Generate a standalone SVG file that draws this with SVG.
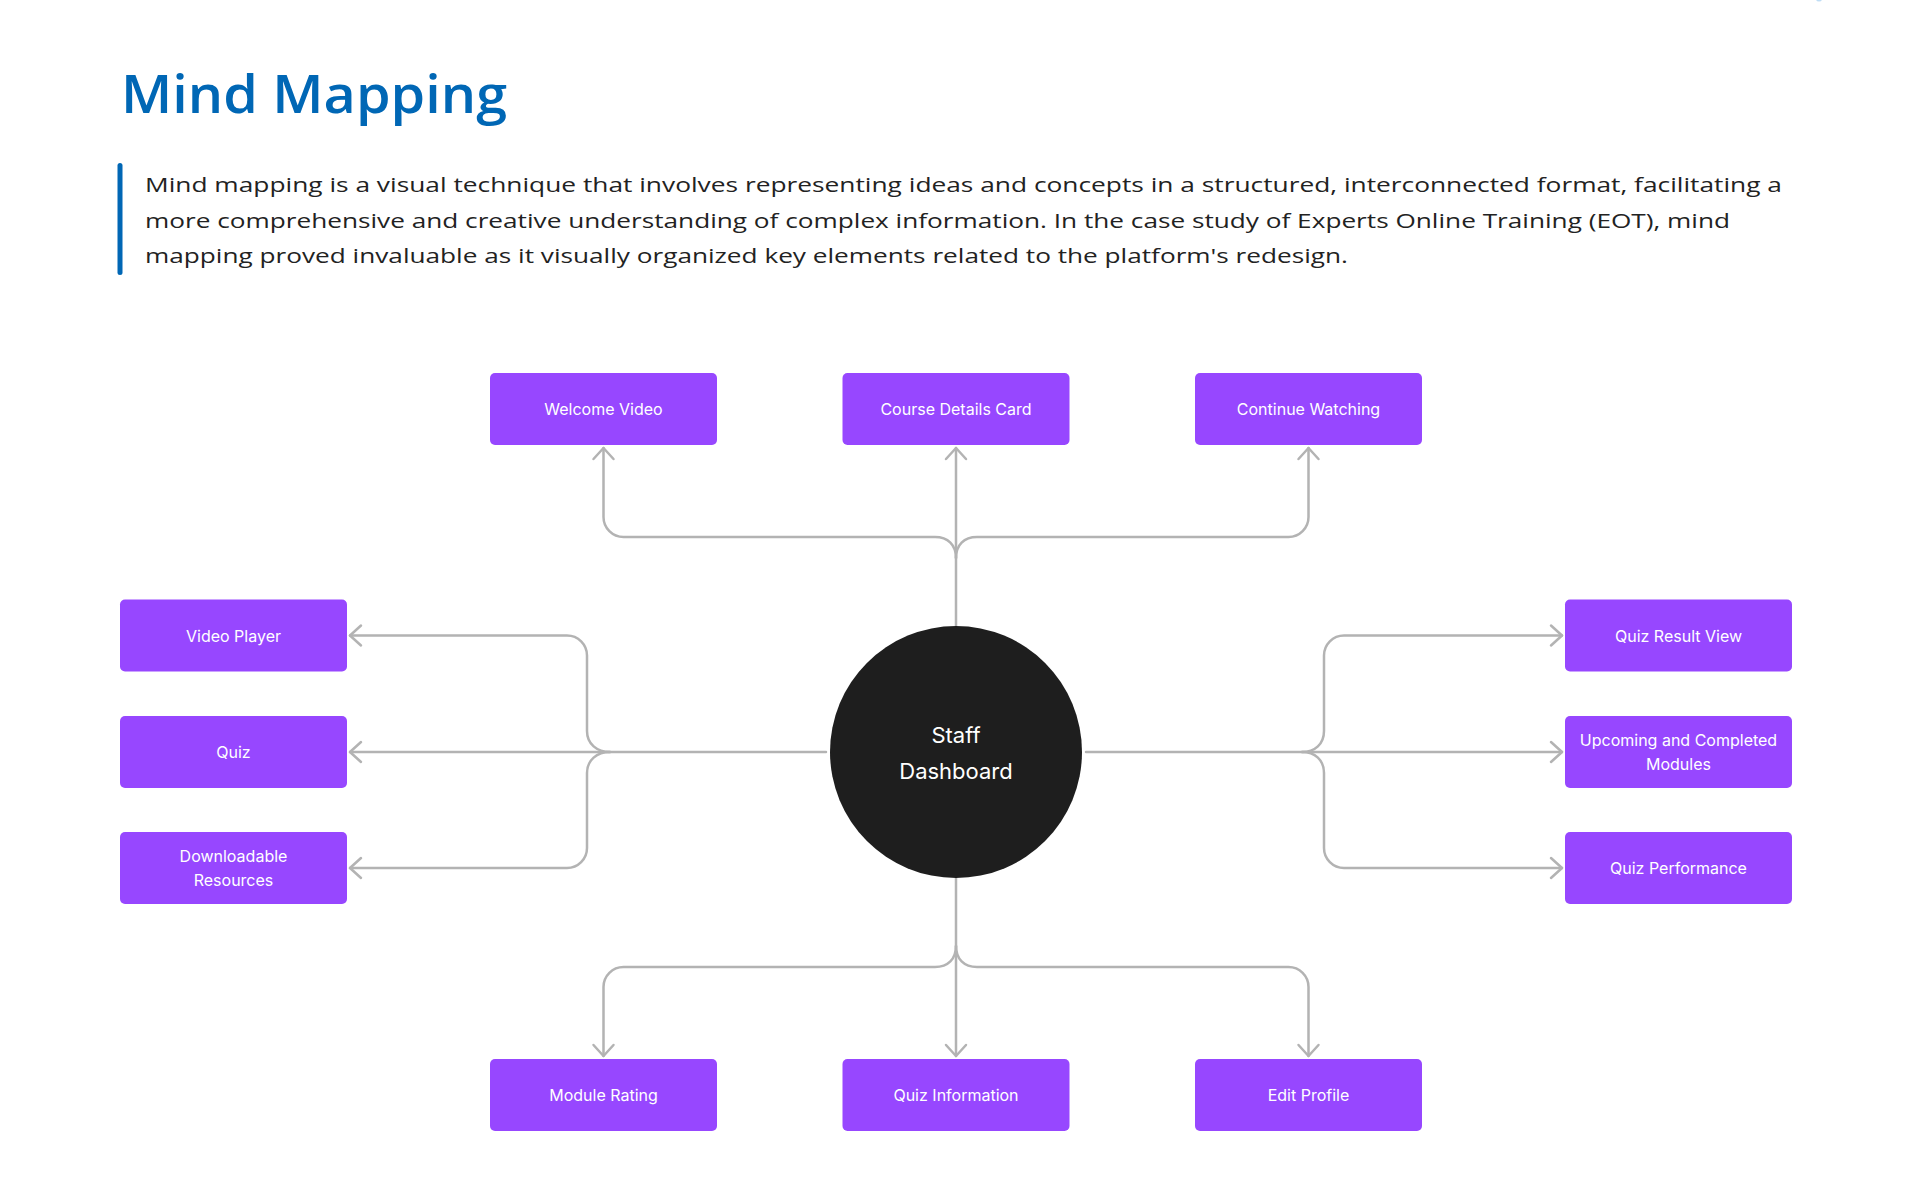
<svg xmlns="http://www.w3.org/2000/svg" width="1920" height="1185" viewBox="0 0 1920 1185">
  <style>
    .box { fill: #9747FF; }
    .lbl { font-family: Inter, "Liberation Sans", sans-serif; font-size: 16px; font-weight: 400; fill: #FFFFFF; text-anchor: middle; }
    .hub { font-family: Inter, "Liberation Sans", sans-serif; font-size: 22px; font-weight: 400; fill: #FFFFFF; text-anchor: middle; }
    .con { fill: none; stroke: #B3B3B3; stroke-width: 2.5; stroke-linecap: round; stroke-linejoin: round; }
    .title { font-family: "Open Sans", "Liberation Sans", sans-serif; font-size: 52px; font-weight: 600; fill: #0067B5; }
    .para { font-family: "Open Sans", "Liberation Sans", sans-serif; font-size: 20.5px; font-weight: 400; fill: #222222; }
  </style>
  <defs>
    <marker id="arr" markerUnits="userSpaceOnUse" markerWidth="30" markerHeight="30" viewBox="-15 -15 30 30" refX="0" refY="0" orient="auto">
      <path d="M -11 -10 L 0 0 L -11 10" fill="none" stroke="#B3B3B3" stroke-width="2.5" stroke-linecap="round" stroke-linejoin="round"/>
    </marker>
  </defs>
  <rect width="1920" height="1185" fill="#FFFFFF"/>
  <ellipse cx="1819" cy="-1" rx="3" ry="2.5" fill="#BFDDF5"/>

  <g id="header">
    <text class="title" x="121" y="113" textLength="386" lengthAdjust="spacingAndGlyphs">Mind Mapping</text>
    <rect x="117.5" y="163" width="5" height="112" rx="2.5" fill="#0067B5"/>
    <text class="para" x="145" y="192" textLength="1637" lengthAdjust="spacingAndGlyphs">Mind mapping is a visual technique that involves representing ideas and concepts in a structured, interconnected format, facilitating a</text>
    <text class="para" x="145" y="227.5" textLength="1585" lengthAdjust="spacingAndGlyphs">more comprehensive and creative understanding of complex information. In the case study of Experts Online Training (EOT), mind</text>
    <text class="para" x="145" y="263" textLength="1203" lengthAdjust="spacingAndGlyphs">mapping proved invaluable as it visually organized key elements related to the platform's redesign.</text>
  </g>

  <g id="connectors">
    <path class="con" d="M956 626 V448" marker-end="url(#arr)"/>
    <path class="con" d="M956 558 C956 545 948 537 935 537 H623.5 A20 20 0 0 1 603.5 517 V448" marker-end="url(#arr)"/>
    <path class="con" d="M956 558 C956 545 964 537 977 537 H1288.5 A20 20 0 0 0 1308.5 517 V448" marker-end="url(#arr)"/>
    <path class="con" d="M956 878 V1056" marker-end="url(#arr)"/>
    <path class="con" d="M956 946 C956 959 948 967 935 967 H623.5 A20 20 0 0 0 603.5 987 V1056" marker-end="url(#arr)"/>
    <path class="con" d="M956 946 C956 959 964 967 977 967 H1288.5 A20 20 0 0 1 1308.5 987 V1056" marker-end="url(#arr)"/>
    <path class="con" d="M826 752 H350" marker-end="url(#arr)"/>
    <path class="con" d="M610 752 C597 752 587 744 587 731 V655.5 A20 20 0 0 0 567 635.5 H350" marker-end="url(#arr)"/>
    <path class="con" d="M610 752 C597 752 587 760 587 773 V848 A20 20 0 0 1 567 868 H350" marker-end="url(#arr)"/>
    <path class="con" d="M1086 752 H1562" marker-end="url(#arr)"/>
    <path class="con" d="M1302 752 C1315 752 1324 744 1324 731 V655.5 A20 20 0 0 1 1344 635.5 H1562" marker-end="url(#arr)"/>
    <path class="con" d="M1302 752 C1315 752 1324 760 1324 773 V848 A20 20 0 0 0 1344 868 H1562" marker-end="url(#arr)"/>
  </g>

  <g id="staff-dashboard">
    <circle cx="956" cy="752" r="126" fill="#1E1E1E"/>
    <text class="hub" x="956" y="742.5">Staff</text>
    <text class="hub" x="956" y="778.5">Dashboard</text>
  </g>

  <g id="welcome-video">
    <rect class="box" x="490" y="373" width="227" height="72" rx="5"/>
    <text class="lbl" x="603.5" y="415">Welcome Video</text>
  </g>
  <g id="course-details-card">
    <rect class="box" x="842.5" y="373" width="227" height="72" rx="5"/>
    <text class="lbl" x="956" y="415">Course Details Card</text>
  </g>
  <g id="continue-watching">
    <rect class="box" x="1195" y="373" width="227" height="72" rx="5"/>
    <text class="lbl" x="1308.5" y="415">Continue Watching</text>
  </g>

  <g id="video-player">
    <rect class="box" x="120" y="599.5" width="227" height="72" rx="5"/>
    <text class="lbl" x="233.5" y="641.5">Video Player</text>
  </g>
  <g id="quiz">
    <rect class="box" x="120" y="716" width="227" height="72" rx="5"/>
    <text class="lbl" x="233.5" y="758">Quiz</text>
  </g>
  <g id="downloadable-resources">
    <rect class="box" x="120" y="832" width="227" height="72" rx="5"/>
    <text class="lbl" x="233.5" y="862">Downloadable</text>
    <text class="lbl" x="233.5" y="886">Resources</text>
  </g>

  <g id="quiz-result-view">
    <rect class="box" x="1565" y="599.5" width="227" height="72" rx="5"/>
    <text class="lbl" x="1678.5" y="641.5">Quiz Result View</text>
  </g>
  <g id="upcoming-completed-modules">
    <rect class="box" x="1565" y="716" width="227" height="72" rx="5"/>
    <text class="lbl" x="1678.5" y="746">Upcoming and Completed</text>
    <text class="lbl" x="1678.5" y="770">Modules</text>
  </g>
  <g id="quiz-performance">
    <rect class="box" x="1565" y="832" width="227" height="72" rx="5"/>
    <text class="lbl" x="1678.5" y="874">Quiz Performance</text>
  </g>

  <g id="module-rating">
    <rect class="box" x="490" y="1059" width="227" height="72" rx="5"/>
    <text class="lbl" x="603.5" y="1101">Module Rating</text>
  </g>
  <g id="quiz-information">
    <rect class="box" x="842.5" y="1059" width="227" height="72" rx="5"/>
    <text class="lbl" x="956" y="1101">Quiz Information</text>
  </g>
  <g id="edit-profile">
    <rect class="box" x="1195" y="1059" width="227" height="72" rx="5"/>
    <text class="lbl" x="1308.5" y="1101">Edit Profile</text>
  </g>
</svg>
